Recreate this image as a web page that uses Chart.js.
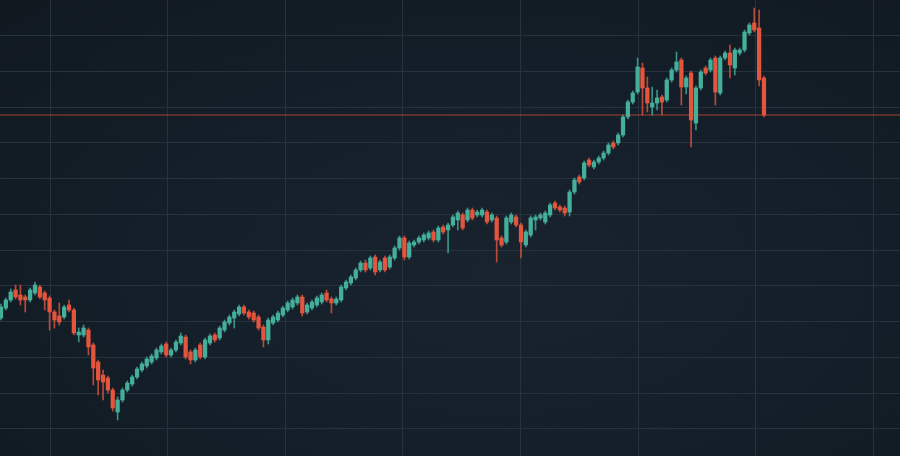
<!DOCTYPE html>
<html>
<head>
<meta charset="utf-8">
<script src="https://cdn.jsdelivr.net/npm/chart.js@4.4.1/dist/chart.umd.min.js"></script>
<style>
    html, body { margin: 0; padding: 0; }
    body { background: radial-gradient(ellipse at 55% 60%, #18232e 0%, #141e28 55%, #101920 100%); }
    #wrap { width: 900px; height: 456px; position: relative; }
</style>
</head>
<body>
<div id="wrap"><canvas id="priceChart"></canvas></div>
<script>
// OHLC per session
const opens = [
    138, 148, 156, 166, 161, 159, 156, 163, 169, 163,
    158, 144, 140, 139, 151, 146, 121, 121, 126, 111,
    94, 81, 78, 66, 44, 56, 66, 72, 79, 86,
    90, 94, 98, 104, 112, 101, 106, 113, 119, 104,
    96, 111, 99, 113, 121, 118, 126, 133, 138, 142,
    149, 144, 143, 139, 129, 116, 133, 136, 141, 146,
    149, 153, 159, 144, 148, 151, 154, 163, 157, 153,
    156, 168, 173, 178, 186, 193, 188, 199, 186, 198,
    189, 198, 208, 218, 199, 211, 214, 216, 218, 224,
    216, 229, 226, 231, 236, 241, 236, 246, 241, 241,
    244, 236, 238, 218, 214, 234, 239, 231, 211, 221,
    236, 238, 234, 241, 253, 249, 248, 244, 264, 279,
    278, 296, 289, 294, 298, 303, 313, 313, 321, 339,
    354, 364, 388, 368, 349, 353, 359, 356, 376, 386,
    396, 369, 383, 333, 368, 388, 386, 398, 363, 398,
    403, 388, 403, 406, 423, 433, 428, 378
];
const highs = [
    152, 158, 167, 171, 171, 161, 168, 174, 171, 165,
    160, 146, 153, 151, 156, 148, 128, 131, 128, 113,
    96, 86, 80, 68, 59, 68, 75, 81, 89, 94,
    99, 102, 108, 112, 114, 108, 116, 123, 121, 106,
    108, 113, 118, 122, 123, 130, 136, 141, 146, 151,
    151, 146, 145, 141, 131, 138, 141, 145, 150, 155,
    158, 161, 161, 153, 156, 160, 163, 166, 159, 159,
    171, 176, 181, 188, 195, 196, 200, 201, 196, 200,
    201, 210, 220, 220, 215, 216, 220, 223, 225, 226,
    230, 231, 233, 241, 245, 243, 248, 248, 246, 248,
    246, 243, 240, 220, 240, 243, 241, 233, 226, 240,
    241, 243, 245, 253, 255, 251, 250, 266, 278, 281,
    295, 298, 296, 300, 305, 313, 315, 323, 341, 356,
    365, 398, 393, 379, 369, 366, 361, 378, 388, 404,
    398, 380, 385, 370, 386, 390, 398, 400, 400, 405,
    411, 408, 408, 426, 433, 448, 446, 380
];
const lows = [
    136, 146, 154, 157, 151, 144, 154, 161, 157, 146,
    126, 128, 131, 137, 144, 121, 114, 119, 101, 71,
    61, 56, 63, 45, 36, 54, 64, 70, 77, 84,
    88, 92, 96, 102, 99, 99, 104, 111, 97, 92,
    94, 97, 97, 111, 114, 116, 124, 131, 128, 140,
    141, 137, 134, 126, 109, 112, 131, 134, 139, 144,
    147, 151, 140, 142, 146, 149, 152, 154, 143, 151,
    154, 166, 171, 176, 184, 184, 186, 181, 184, 184,
    187, 196, 206, 196, 197, 209, 212, 214, 216, 214,
    214, 222, 203, 229, 226, 226, 234, 236, 239, 239,
    232, 234, 194, 209, 212, 232, 229, 198, 209, 219,
    226, 236, 232, 239, 246, 244, 240, 240, 262, 272,
    276, 289, 287, 292, 296, 301, 307, 311, 319, 337,
    352, 362, 341, 344, 341, 346, 341, 354, 374, 384,
    351, 362, 309, 326, 366, 381, 384, 351, 361, 396,
    378, 381, 401, 404, 421, 424, 370, 339
];
const closes = [
    149, 156, 164, 159, 156, 156, 166, 171, 159, 156,
    144, 136, 134, 149, 146, 123, 124, 128, 109, 88,
    76, 74, 66, 48, 56, 66, 73, 79, 87, 92,
    97, 100, 106, 110, 101, 106, 114, 120, 99, 96,
    106, 99, 116, 120, 116, 128, 134, 139, 144, 149,
    143, 139, 136, 128, 116, 136, 139, 143, 148, 153,
    156, 159, 143, 151, 154, 158, 161, 156, 153, 157,
    169, 174, 179, 186, 193, 186, 198, 184, 194, 186,
    199, 208, 218, 199, 213, 214, 218, 221, 223, 216,
    228, 224, 231, 239, 243, 228, 246, 238, 244, 246,
    234, 241, 216, 211, 238, 241, 231, 214, 224, 238,
    239, 241, 243, 251, 248, 246, 243, 264, 276, 274,
    293, 291, 294, 298, 303, 311, 309, 321, 339, 354,
    363, 389, 368, 353, 353, 358, 354, 376, 386, 394,
    369, 378, 336, 368, 384, 383, 396, 364, 398, 403,
    391, 406, 406, 424, 431, 426, 376, 341
];

const levelPrice = 341;   // red horizontal level
const xGrid = [10.09, 34.29, 58.5, 82.7, 106.9, 131.1, 155.3, 179.5];
const yGrid = [27.25, 63, 98.75, 134.5, 170.25, 206, 241.75, 277.5, 313.25, 349, 384.75, 420.5];

const upColor = '#44b09b';
const downColor = '#e4553e';

const candleColors = closes.map((c, i) => c >= opens[i] ? upColor : downColor);
const wickColors = closes.map((c, i) => c >= opens[i] ? 'rgba(68,176,155,0.8)' : 'rgba(228,85,62,0.8)');
const bodies = opens.map((o, i) => ({ x: i, y: [o, closes[i]] }));
const wicks = lows.map((l, i) => ({ x: i, y: [l, highs[i]] }));

const ctx = document.getElementById('priceChart').getContext('2d');
new Chart(ctx, {
    type: 'bar',
    data: {
        datasets: [
            {
                type: 'line',
                data: [{ x: -5, y: levelPrice }, { x: 200, y: levelPrice }],
                borderColor: '#a8402f',
                borderWidth: 1,
                pointRadius: 0,
                order: 3
            },
            {
                data: wicks,
                backgroundColor: wickColors,
                barThickness: 1,
                grouped: false,
                order: 2
            },
            {
                data: bodies,
                backgroundColor: candleColors,
                barThickness: 3.6,
                grouped: false,
                order: 1
            }
        ]
    },
    options: {
        responsive: true,
        maintainAspectRatio: false,
        animation: false,
        devicePixelRatio: 1,
        layout: { padding: 0 },
        plugins: { legend: { display: false }, tooltip: { enabled: false } },
        scales: {
            x: {
                type: 'linear',
                min: -0.2,
                max: 184.99,
                offset: false,
                afterBuildTicks: scale => { scale.ticks = xGrid.map(v => ({ value: v })); },
                ticks: { display: false },
                border: { display: false },
                grid: { color: '#27323d', lineWidth: 1, drawTicks: false, offset: false }
            },
            y: {
                min: 0,
                max: 456,
                afterBuildTicks: scale => { scale.ticks = yGrid.map(v => ({ value: v })); },
                ticks: { display: false },
                border: { display: false },
                grid: { color: '#27323d', lineWidth: 1, drawTicks: false }
            }
        }
    }
});
</script>
</body>
</html>
